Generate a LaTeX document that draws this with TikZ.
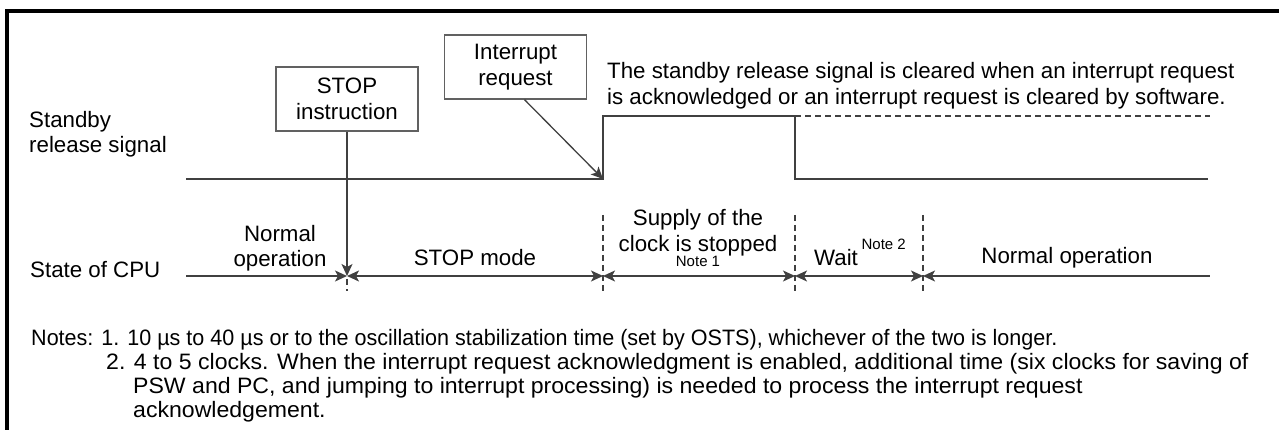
\documentclass[tikz,border=0pt]{standalone}
\usepackage{fontspec}
\setmainfont{Liberation Sans}
\usetikzlibrary{arrows.meta}
\begin{document}
\begin{tikzpicture}[x=1pt,y=-1pt,
  txt/.style={font=\fontsize{22.3}{25.5}\selectfont, inner sep=0pt, align=center},
  notetxt/.style={font=\fontsize{22.3}{25.5}\selectfont, inner sep=0pt, anchor=west},
  tiny/.style={font=\fontsize{15}{16}\selectfont, inner sep=0pt},
  wire/.style={draw=black!75, line width=1.3pt},
  labelbox/.style={draw=black!62, line width=1.3pt, minimum width=142pt, minimum height=64pt,
    inner sep=0pt, align=center, font=\fontsize{22.3}{25.5}\selectfont},
  guide/.style={draw=black!75, line width=1.3pt, dash pattern=on 6pt off 4pt},
  arr/.style={-{Stealth[length=12pt,width=11pt,inset=3pt]}},
  barr/.style={{Stealth[length=12pt,width=11pt,inset=3pt]}-{Stealth[length=12pt,width=11pt,inset=3pt]}},
  larr/.style={{Stealth[length=12pt,width=11pt,inset=3pt]}-}]
\useasboundingbox (0,0) rectangle (1279,430);

% frame (top and left edges)
\coordinate (fbl) at (7,432);
\coordinate (ftl) at (7,11);
\coordinate (ftr) at (1281,11);
\draw[line width=3.5pt] (fbl) -- (ftl) -- (ftr);

% row labels
\node[txt, align=left, anchor=west] (sblabel) at (29,134) {Standby\\release signal};
\node[txt, anchor=west] (cpulabel) at (30,270) {State of CPU};

% event boxes
\node[labelbox] (stop) at (347,99) {STOP\\instruction};
\node[labelbox] (irq) at (515.5,67) {Interrupt\\request};

\node[txt, align=left, anchor=west] (clearnote) at (607,85.5)
  {The standby release signal is cleared when an interrupt request\\is acknowledged or an interrupt request is cleared by software.};

% standby release signal waveform
\coordinate (s0) at (186,179);
\coordinate (rise) at (603,179);
\coordinate (hi) at (603,116);
\coordinate (fall) at (795,116);
\coordinate (lo) at (795,179);
\coordinate (s1) at (1208,179);
\coordinate (dend) at (1210,116);
\draw[wire] (s0) -- (rise) -- (hi) -- (fall) -- (lo) -- (s1);
\draw[guide] (fall) -- (dend);
\draw[wire, arr] ([xshift=9pt]irq.south) -- (rise);

% CPU state time line
\coordinate (c0) at (186,276);
\coordinate (c1) at (347,276);
\coordinate (c2) at (603,276);
\coordinate (c3) at (795,276);
\coordinate (c4) at (923,276);
\coordinate (c5) at (1210,276);
\draw[wire, arr] (stop.south) -- (c1);
\draw[wire, arr] (c0) -- (c1);
\draw[wire, barr] (c1) -- (c2);
\draw[wire, barr] (c2) -- (c3);
\draw[wire, barr] (c3) -- (c4);
\draw[wire, larr] (c4) -- (c5);

% phase boundaries
\coordinate (g1a) at (347,279);
\coordinate (g1b) at (347,291);
\coordinate (g2a) at (603,215);
\coordinate (g2b) at (603,291);
\coordinate (g3a) at (795,215);
\coordinate (g3b) at (795,291);
\coordinate (g4a) at (923,215);
\coordinate (g4b) at (923,291);
\draw[guide] (g1a) -- (g1b);
\draw[guide] (g2a) -- (g2b);
\draw[guide] (g3a) -- (g3b);
\draw[guide] (g4a) -- (g4b);

% phase names
\node[txt] (ph1) at (280,248) {Normal\\operation};
\node[txt] (ph2) at (475,258) {STOP mode};
\node[txt] (ph3) at (698,232.5) {Supply of the\\clock is stopped};
\node[tiny] (ph3n) at (698,261) {Note 1};
\node[txt] (ph4) at (860,252) {Wait\,\raisebox{16pt}{\fontsize{15}{16}\selectfont Note 2}};
\node[txt] (ph5) at (1067,258) {Normal operation};

% notes
\node[notetxt] (n1) at (31,340) {\scalebox{0.966}[1]{Notes: 1. 10 µs to 40 µs or to the oscillation stabilization time (set by OSTS), whichever of the two is longer.}};
\node[notetxt] (n2) at (106,364) {\scalebox{1.035}[1]{2. 4 to 5 clocks. When the interrupt request acknowledgment is enabled, additional time (six clocks for saving of}};
\node[notetxt] (n3) at (133,388) {\scalebox{1.035}[1]{PSW and PC, and jumping to interrupt processing) is needed to process the interrupt request}};
\node[notetxt] (n4) at (133,412) {\scalebox{1.035}[1]{acknowledgement.}};
\end{tikzpicture}
\end{document}
